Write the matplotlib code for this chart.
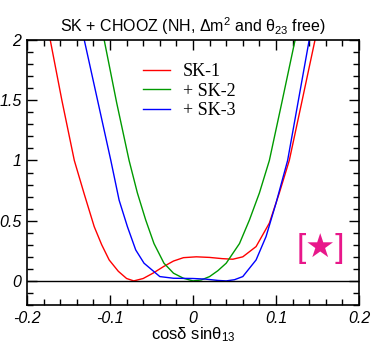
import matplotlib
matplotlib.use("Agg")
import matplotlib.pyplot as plt
from matplotlib.ticker import MultipleLocator

plt.rcParams['font.family'] = ['Liberation Sans', 'DejaVu Sans']
plt.rcParams['mathtext.fontset'] = 'custom'
plt.rcParams['mathtext.rm'] = 'Liberation Sans'
plt.rcParams['mathtext.it'] = 'Liberation Sans:italic'

# SK-1
x_sk1 = [-0.172, -0.158, -0.143, -0.131, -0.119, -0.110, -0.101, -0.090, -0.080,
         -0.0714, -0.060, -0.048, -0.0355, -0.0235, -0.0115, 0.004, 0.020, 0.035,
         0.048, 0.060, 0.076, 0.092, 0.104, 0.116, 0.130, 0.147]
y_sk1 = [2.0, 1.5, 1.0, 0.72, 0.45, 0.30, 0.174, 0.08, 0.02,
         0.0, 0.02, 0.065, 0.119, 0.165, 0.193, 0.20, 0.195, 0.185,
         0.18, 0.20, 0.285, 0.48, 0.73, 1.0, 1.45, 2.0]

# + SK-2
x_sk2 = [-0.107, -0.092, -0.077, -0.067, -0.057, -0.047, -0.035, -0.0235, -0.0115,
         0.0, 0.010, 0.020, 0.030, 0.040, 0.056, 0.068, 0.080, 0.092, 0.107, 0.123]
y_sk2 = [2.0, 1.48, 1.0, 0.73, 0.506, 0.31, 0.147, 0.064, 0.022,
         0.0, 0.008, 0.036, 0.085, 0.147, 0.31, 0.506, 0.73, 1.0, 1.48, 2.0]

# + SK-3
x_sk3 = [-0.131, -0.115, -0.099, -0.089, -0.079, -0.069, -0.059, -0.047, -0.040,
         -0.0235, 0.0, 0.015, 0.030, 0.040, 0.050, 0.060, 0.076, 0.088, 0.100,
         0.114, 0.127, 0.140]
y_sk3 = [2.0, 1.5, 1.0, 0.67, 0.45, 0.257, 0.147, 0.077, 0.036,
         0.022, 0.02, 0.015, 0.004, 0.0, 0.01, 0.036, 0.174, 0.368, 0.645,
         1.0, 1.5, 2.0]

labels = ['SK-1', '+ SK-2', '+ SK-3']
colors = ['#ff0000', '#009a00', '#0000ff']

fig = plt.figure(figsize=(3.71, 3.46), dpi=100)
ax = fig.add_axes([27 / 371, 1 - 305 / 346, 332 / 371, 265 / 346])

for xs, ys, lab, c in zip([x_sk1, x_sk2, x_sk3], [y_sk1, y_sk2, y_sk3], labels, colors):
    ax.plot(xs, ys, color=c, lw=1.0, label=lab)

ax.axhline(0, color='black', lw=1.0)

ax.set_xlim(-0.2, 0.2)
ax.set_ylim(-0.2, 2)
ax.xaxis.set_minor_locator(MultipleLocator(0.02))
ax.yaxis.set_minor_locator(MultipleLocator(0.1))
ax.set_xticks([-0.2, -0.1, 0, 0.1, 0.2])
ax.set_xticklabels(['-0.2', '-0.1', '0', '0.1', '0.2'], style='italic', fontsize=11.5)
ax.set_yticks([0, 0.5, 1, 1.5, 2])
ax.set_yticklabels(['0', '0.5', '1', '1.5', '2'], style='italic', fontsize=11.5)
ax.tick_params(which='both', direction='in', top=True, right=True, width=1.0)
ax.tick_params(which='major', length=7, pad=4)
ax.tick_params(which='minor', length=4)
for s in ax.spines.values():
    s.set_linewidth(1.2)

ax.set_title('SK + CHOOZ (NH, Δm$^2$ and θ$_{23}$ free)', fontsize=11.5, pad=6)
ax.set_xlabel('cosδ sinθ$_{13}$', fontsize=12, labelpad=0)

leg = ax.legend(loc='upper left', bbox_to_anchor=(0.30, 0.975), frameon=False,
                prop={'family': 'Liberation Serif', 'size': 13},
                handlelength=1.5, handletextpad=0.7, labelspacing=0.15)

ax.text(321, 346 - 249, '[★]', transform=None, color='#e8178a', fontsize=24,
        ha='center', va='center', family=['Liberation Sans', 'DejaVu Sans'])

fig.savefig('out.png', dpi=100)
